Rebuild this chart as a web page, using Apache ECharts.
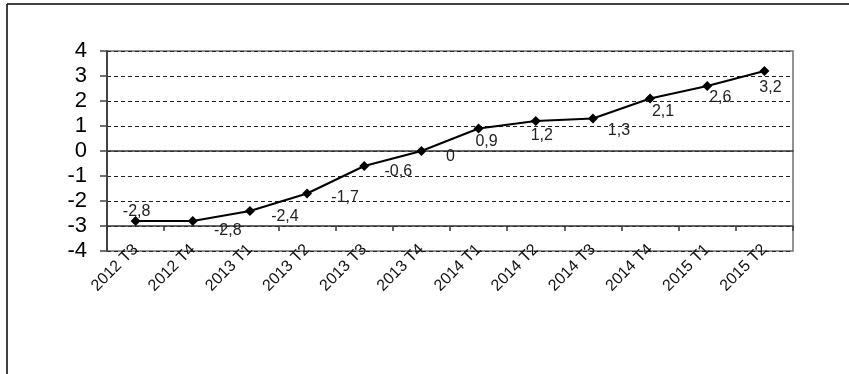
<!DOCTYPE html>
<html>
<head>
<meta charset="utf-8">
<script src="https://cdn.jsdelivr.net/npm/echarts@6/dist/echarts.min.js"></script>
<style>
  html, body { margin: 0; padding: 0; background: #fff; }
  #chart { width: 849px; height: 374px; }
</style>
</head>
<body>
<div id="chart"></div>
<script>
// Quarterly values
const quarters = ['2012 T3', '2012 T4', '2013 T1', '2013 T2', '2013 T3', '2013 T4',
                  '2014 T1', '2014 T2', '2014 T3', '2014 T4', '2015 T1', '2015 T2'];
const values = [-2.8, -2.8, -2.4, -1.7, -0.6, 0, 0.9, 1.2, 1.3, 2.1, 2.6, 3.2];
const yTicks = [-4, -3, -2, -1, 0, 1, 2, 3, 4];

// Where each value label sits relative to its marker (dx, dy in px)
const labelOffsets = [[1, -9], [35, 10], [35, 6], [38, 4], [34, 6], [29, 6],
                      [8, 13], [6, 15], [26, 12], [13, 13], [13, 12], [6, 17]];

const fmt = v => String(v).replace('.', ',');
const FONT = "'Liberation Sans', Arial, sans-serif";

const chart = echarts.init(document.getElementById('chart'));
chart.setOption({
  animation: false,
  backgroundColor: '#fff',
  textStyle: { fontFamily: FONT },
  graphic: [
    { type: 'line', shape: { x1: 7, y1: 4, x2: 849, y2: 4 }, style: { stroke: '#000', lineWidth: 1.5 } },
    { type: 'line', shape: { x1: 7, y1: 4, x2: 7, y2: 374 }, style: { stroke: '#000', lineWidth: 1.5 } }
  ],
  grid: {
    left: 107, right: 56, top: 51, bottom: 123,
    show: true, borderColor: '#707070', borderWidth: 1.5, backgroundColor: 'transparent'
  },
  xAxis: [
    {
      type: 'category', data: quarters, boundaryGap: true, position: 'bottom',
      axisLine: { show: true, lineStyle: { color: '#333', width: 1.5 } },
      axisTick: { show: false },
      axisLabel: {
        rotate: 45, interval: 0, margin: -4, fontSize: 16, color: '#111', fontFamily: FONT
      },
      splitLine: { show: false }
    },
    {
      // horizontal axis line crossing at -3 with boundary ticks
      type: 'category', data: quarters, boundaryGap: true, position: 'bottom', offset: -25,
      axisLine: { show: true, onZero: false, lineStyle: { color: '#333', width: 1.5 } },
      axisTick: { show: true, inside: false, length: 5, interval: 0, lineStyle: { color: '#333', width: 1.5 } },
      axisLabel: { show: false },
      splitLine: { show: false }
    }
  ],
  yAxis: {
    type: 'value', min: yTicks[0], max: yTicks[yTicks.length - 1], interval: 1,
    axisLine: { show: true, lineStyle: { color: '#444', width: 2 } },
    axisTick: { show: true, inside: false, length: 7, lineStyle: { color: '#444', width: 1.5 } },
    axisLabel: { margin: 20, fontSize: 22, color: '#000', fontFamily: FONT },
    splitLine: { show: true, lineStyle: { type: [4, 3], width: 1, color: '#222' } }
  },
  series: [{
    type: 'line',
    xAxisIndex: 0,
    data: values.map((v, i) => ({ value: v, label: { offset: labelOffsets[i] } })),
    symbol: 'diamond',
    symbolSize: 10,
    lineStyle: { color: '#000', width: 2 },
    itemStyle: { color: '#000' },
    label: {
      show: true, position: 'inside', align: 'center', verticalAlign: 'middle',
      fontSize: 16, color: '#222', fontFamily: FONT,
      formatter: p => fmt(p.value)
    },
    z: 5
  }]
});
</script>
</body>
</html>
